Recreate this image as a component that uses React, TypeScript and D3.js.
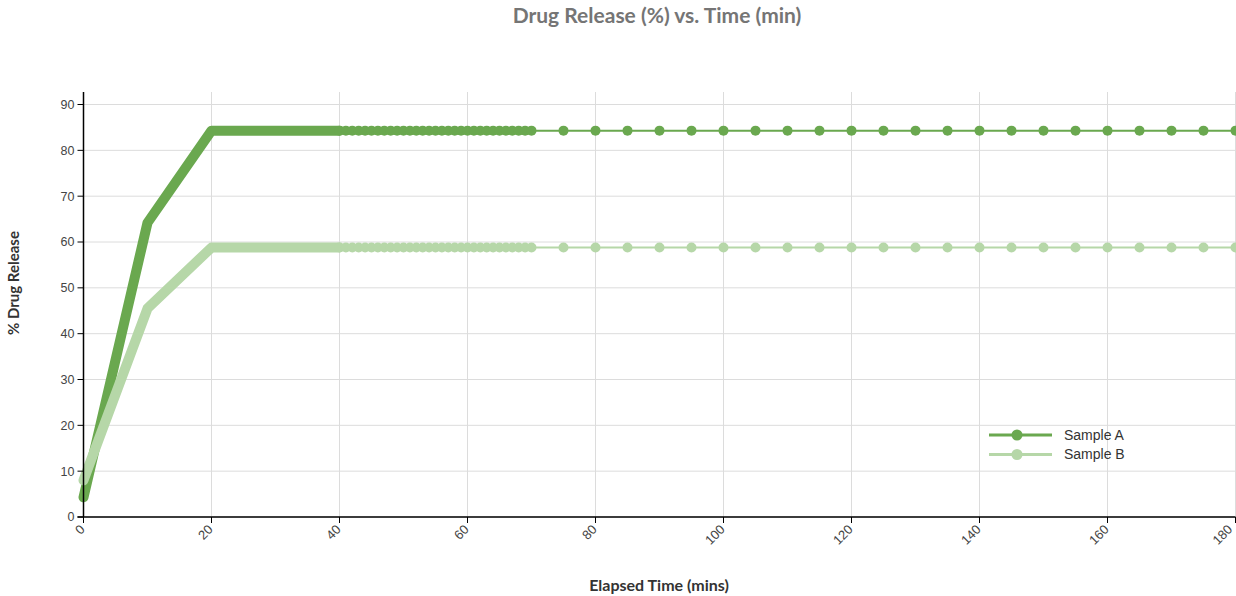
import React from "react";
import * as d3 from "d3";

// Elapsed time (min) of each recorded reading
const timesMin = [
  0, 10, 20, 40, 41, 42, 43, 44, 45, 46, 47, 48, 49, 50, 51, 52, 53, 54, 55, 56, 57, 58, 59, 60,
  61, 62, 63, 64, 65, 66, 67, 68, 69, 70, 75, 80, 85, 90, 95, 100, 105, 110, 115, 120, 125, 130,
  135, 140, 145, 150, 155, 160, 165, 170, 175, 180,
];
// % drug release readings
const sampleA = [
  4.3, 64.2, 84.3, 84.3, 84.3, 84.3, 84.3, 84.3, 84.3, 84.3, 84.3, 84.3, 84.3, 84.3, 84.3, 84.3,
  84.3, 84.3, 84.3, 84.3, 84.3, 84.3, 84.3, 84.3, 84.3, 84.3, 84.3, 84.3, 84.3, 84.3, 84.3, 84.3,
  84.3, 84.3, 84.3, 84.3, 84.3, 84.3, 84.3, 84.3, 84.3, 84.3, 84.3, 84.3, 84.3, 84.3, 84.3, 84.3,
  84.3, 84.3, 84.3, 84.3, 84.3, 84.3, 84.3, 84.3,
];
const sampleB = [
  8.0, 45.5, 58.8, 58.8, 58.8, 58.8, 58.8, 58.8, 58.8, 58.8, 58.8, 58.8, 58.8, 58.8, 58.8, 58.8,
  58.8, 58.8, 58.8, 58.8, 58.8, 58.8, 58.8, 58.8, 58.8, 58.8, 58.8, 58.8, 58.8, 58.8, 58.8, 58.8,
  58.8, 58.8, 58.8, 58.8, 58.8, 58.8, 58.8, 58.8, 58.8, 58.8, 58.8, 58.8, 58.8, 58.8, 58.8, 58.8,
  58.8, 58.8, 58.8, 58.8, 58.8, 58.8, 58.8, 58.8,
];
// Readings up to this time were sampled continuously (markers merge into a band)
const continuousUntil = 40;
const seriesNames = ["Sample A", "Sample B"];
const seriesColors = ["#6aa84f", "#b6d7a8"];
const xTicks = [0, 20, 40, 60, 80, 100, 120, 140, 160, 180];
const yTicks = [0, 10, 20, 30, 40, 50, 60, 70, 80, 90];

const W = 1236;
const H = 596;
const M = { left: 83.5, right: 0.5, top: 92, bottom: 79 };

export default function App() {
  const x = d3.scaleLinear().domain([0, 180]).range([M.left, W - M.right]);
  const yMax = (d3.max([...sampleA, ...sampleB]) as number) * 1.1;
  const y = d3.scaleLinear().domain([0, yMax]).range([H - M.bottom, M.top]);
  const series = [sampleA, sampleB].map((vals, i) => ({
    name: seriesNames[i],
    color: seriesColors[i],
    pts: timesMin.map((t, j) => ({ t, v: vals[j] })),
  }));
  const line = d3
    .line<{ t: number; v: number }>()
    .x((d) => x(d.t))
    .y((d) => y(d.v));
  const y0 = H - M.bottom;
  const font = "'Liberation Sans', Arial, sans-serif";
  const titleFont = "Lato, 'Open Sans', sans-serif";

  return (
    <svg
      width={W}
      height={H}
      style={{ position: "absolute", left: 0, top: 0, background: "#fff" }}
    >
      {/* grid */}
      {yTicks.map((t) => (
        <line key={"gy" + t} x1={M.left} x2={W - M.right} y1={y(t)} y2={y(t)} stroke="#dcdcdc" strokeWidth={1} />
      ))}
      {xTicks.map((t) => (
        <line key={"gx" + t} x1={x(t)} x2={x(t)} y1={M.top} y2={y0} stroke="#dcdcdc" strokeWidth={1} />
      ))}

      {/* series */}
      {series.map((s) => (
        <g key={s.name}>
          <path d={line(s.pts) || ""} fill="none" stroke={s.color} strokeWidth={2} />
          <path
            d={line(s.pts.filter((p) => p.t <= continuousUntil)) || ""}
            fill="none"
            stroke={s.color}
            strokeWidth={10}
            strokeLinejoin="round"
            strokeLinecap="round"
          />
          {s.pts
            .filter((p) => p.t >= continuousUntil)
            .map((p) => (
              <circle key={p.t} cx={x(p.t)} cy={y(p.v)} r={5} fill={s.color} />
            ))}
        </g>
      ))}

      {/* axes */}
      <line x1={M.left} x2={M.left} y1={M.top} y2={y0} stroke="#000" strokeWidth={1.5} />
      <line x1={M.left - 6} x2={W - M.right} y1={y0} y2={y0} stroke="#000" strokeWidth={1.5} />
      {yTicks.map((t) => (
        <g key={"ty" + t}>
          <line x1={M.left - 6} x2={M.left} y1={y(t)} y2={y(t)} stroke="#000" />
          <text x={M.left - 9} y={y(t)} dy="0.35em" textAnchor="end" fontSize={12.5} fontFamily={font} fill="#444">
            {t}
          </text>
        </g>
      ))}
      {xTicks.map((t) => (
        <g key={"tx" + t}>
          <line x1={x(t)} x2={x(t)} y1={y0} y2={y0 + 6} stroke="#000" />
          <text
            transform={`translate(${Math.min(x(t) - 1, W - 6)},${y0 + 10}) rotate(-45)`}
            textAnchor="end"
            dy="0.35em"
            fontSize={13}
            fontFamily={font}
            fill="#444"
          >
            {t}
          </text>
        </g>
      ))}

      {/* titles */}
      <text x={657} y={23} textAnchor="middle" fontSize={21} fontWeight="bold" fontFamily={titleFont} fill="#757575">
        Drug Release (%) vs. Time (min)
      </text>
      <text x={659} y={591} textAnchor="middle" fontSize={16} fontWeight="bold" fontFamily={titleFont} fill="#333">
        Elapsed Time (mins)
      </text>
      <text
        transform={`translate(19,283) rotate(-90)`}
        textAnchor="middle"
        fontSize={15}
        fontWeight="bold"
        fontFamily={titleFont}
        fill="#333"
      >
        % Drug Release
      </text>

      {/* legend */}
      {series.map((s, i) => (
        <g key={"lg" + s.name} transform={`translate(989,${435 + i * 19.5})`}>
          <line x1={0} x2={63} y1={0} y2={0} stroke={s.color} strokeWidth={3} />
          <circle cx={28} cy={0} r={5.5} fill={s.color} />
          <text x={75} y={0} dy="0.35em" fontSize={14} fontFamily={font} fill="#333">
            {s.name}
          </text>
        </g>
      ))}
    </svg>
  );
}
